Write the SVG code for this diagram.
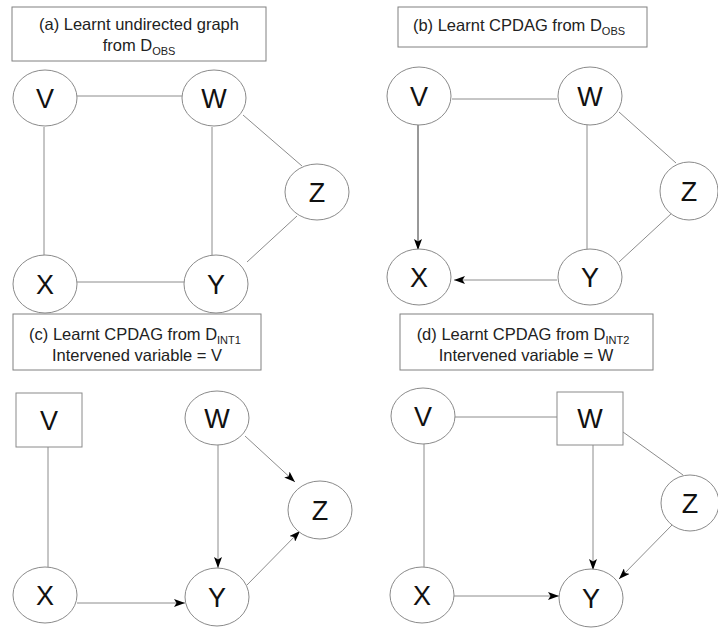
<svg xmlns="http://www.w3.org/2000/svg" width="718" height="631" viewBox="0 0 718 631">
  <style>
    .box { fill: #fff; stroke: #808080; stroke-width: 1; }
    .node { fill: #fff; stroke: #8a8a8a; stroke-width: 1; }
    .lbl { font-family: "Liberation Sans", Arial, sans-serif; font-size: 27px; fill: #111; text-anchor: middle; }
    .ttl { font-family: "Liberation Sans", Arial, sans-serif; font-size: 16.5px; fill: #222; text-anchor: middle; }
    .sub { font-size: 11px; }
    .edge { stroke: #8c8c8c; stroke-width: 1; fill: none; }
    .dark { stroke: #333; }
    .arr { marker-end: url(#head); }
  </style>
  <defs>
    <marker id="head" markerUnits="userSpaceOnUse" markerWidth="12" markerHeight="8" refX="11" refY="4" orient="auto">
      <path d="M0,0 L11,4 L0,8 L2.5,4 z" fill="#000"/>
    </marker>
  </defs>
  <rect width="718" height="631" fill="#fff"/>

  <!-- panel titles -->
  <g id="title-a">
    <rect class="box" x="12" y="7" width="254" height="54"/>
    <text class="ttl" x="139" y="30">(a) Learnt undirected graph</text>
    <text class="ttl" x="139" y="51">from D<tspan class="sub" dy="4">OBS</tspan></text>
  </g>
  <g id="title-b">
    <rect class="box" x="398" y="7" width="249" height="40"/>
    <text class="ttl" x="519" y="31">(b) Learnt CPDAG from D<tspan class="sub" dy="4">OBS</tspan></text>
  </g>
  <g id="title-c">
    <rect class="box" x="13" y="314" width="248" height="56"/>
    <text class="ttl" x="135" y="340">(c) Learnt CPDAG from D<tspan class="sub" dy="4">INT1</tspan></text>
    <text class="ttl" x="137" y="361">Intervened variable = V</text>
  </g>
  <g id="title-d">
    <rect class="box" x="400" y="314" width="253" height="56"/>
    <text class="ttl" x="523" y="340">(d) Learnt CPDAG from D<tspan class="sub" dy="4">INT2</tspan></text>
    <text class="ttl" x="526" y="361">Intervened variable = W</text>
  </g>

  <!-- connectors -->
  <g id="connectors">
    <!-- (a) -->
    <line class="edge" x1="77" y1="96" x2="182" y2="96"/>
    <line class="edge" x1="44" y1="127" x2="44" y2="256"/>
    <line class="edge" x1="212" y1="127" x2="212" y2="256"/>
    <line class="edge" x1="243" y1="115" x2="302" y2="166"/>
    <line class="edge" x1="297" y1="216" x2="247" y2="262"/>
    <line class="edge" x1="77" y1="282" x2="185" y2="282"/>
    <!-- (b) -->
    <line class="edge" x1="452" y1="99" x2="557" y2="99"/>
    <line class="edge dark arr" x1="418" y1="125" x2="418" y2="250"/>
    <line class="edge" x1="587" y1="125" x2="587" y2="251"/>
    <line class="edge" x1="619" y1="112" x2="676" y2="163"/>
    <line class="edge" x1="672" y1="213" x2="619" y2="262"/>
    <line class="edge arr" x1="557" y1="280" x2="454" y2="280"/>
    <!-- (c) -->
    <line class="edge" x1="48" y1="447" x2="48" y2="567"/>
    <line class="edge arr" x1="218" y1="445" x2="218" y2="568"/>
    <line class="edge arr" x1="245" y1="436" x2="295" y2="482"/>
    <line class="edge arr" x1="247" y1="585" x2="300" y2="531"/>
    <line class="edge arr" x1="77" y1="603" x2="185" y2="603"/>
    <!-- (d) -->
    <line class="edge" x1="454" y1="417" x2="557" y2="417"/>
    <line class="edge" x1="424" y1="443" x2="424" y2="567"/>
    <line class="edge arr" x1="593" y1="445" x2="593" y2="570"/>
    <line class="edge" x1="623" y1="432" x2="683" y2="475"/>
    <line class="edge arr" x1="672" y1="525" x2="619" y2="579"/>
    <line class="edge arr" x1="454" y1="596" x2="559" y2="596"/>
  </g>

  <!-- (a) nodes -->
  <g id="a-V"><ellipse class="node" cx="45" cy="98" rx="32" ry="28"/><text class="lbl" x="45" y="108">V</text></g>
  <g id="a-W"><ellipse class="node" cx="214" cy="98" rx="32" ry="28"/><text class="lbl" x="214" y="108">W</text></g>
  <g id="a-Z"><ellipse class="node" cx="317" cy="192" rx="32" ry="28"/><text class="lbl" x="317" y="202">Z</text></g>
  <g id="a-X"><ellipse class="node" cx="45" cy="284" rx="32" ry="29"/><text class="lbl" x="45" y="294">X</text></g>
  <g id="a-Y"><ellipse class="node" cx="216" cy="284" rx="32" ry="29"/><text class="lbl" x="216" y="294">Y</text></g>

  <!-- (b) nodes -->
  <g id="b-V"><ellipse class="node" cx="419" cy="96" rx="32" ry="29"/><text class="lbl" x="419" y="106">V</text></g>
  <g id="b-W"><ellipse class="node" cx="590" cy="96" rx="32" ry="29"/><text class="lbl" x="590" y="106">W</text></g>
  <g id="b-Z"><ellipse class="node" cx="689" cy="191" rx="29" ry="29"/><text class="lbl" x="689" y="201">Z</text></g>
  <g id="b-X"><ellipse class="node" cx="419" cy="277" rx="32" ry="28"/><text class="lbl" x="419" y="287">X</text></g>
  <g id="b-Y"><ellipse class="node" cx="590" cy="277" rx="32" ry="28"/><text class="lbl" x="590" y="287">Y</text></g>

  <!-- (c) nodes -->
  <g id="c-V"><rect class="node" x="16" y="393" width="66" height="54"/><text class="lbl" x="49" y="430">V</text></g>
  <g id="c-W"><ellipse class="node" cx="217" cy="418" rx="32" ry="27"/><text class="lbl" x="217" y="428">W</text></g>
  <g id="c-Z"><ellipse class="node" cx="320" cy="510" rx="32" ry="29"/><text class="lbl" x="320" y="520">Z</text></g>
  <g id="c-X"><ellipse class="node" cx="45" cy="595" rx="32" ry="28"/><text class="lbl" x="45" y="605">X</text></g>
  <g id="c-Y"><ellipse class="node" cx="217" cy="597" rx="32" ry="29"/><text class="lbl" x="217" y="607">Y</text></g>

  <!-- (d) nodes -->
  <g id="d-V"><ellipse class="node" cx="423" cy="416" rx="32" ry="28"/><text class="lbl" x="423" y="426">V</text></g>
  <g id="d-W"><rect class="node" x="557" y="392" width="66" height="53"/><text class="lbl" x="590" y="428">W</text></g>
  <g id="d-Z"><ellipse class="node" cx="690" cy="503" rx="29" ry="28"/><text class="lbl" x="690" y="513">Z</text></g>
  <g id="d-X"><ellipse class="node" cx="422" cy="595" rx="32" ry="28"/><text class="lbl" x="422" y="605">X</text></g>
  <g id="d-Y"><ellipse class="node" cx="591" cy="598" rx="32" ry="29"/><text class="lbl" x="591" y="608">Y</text></g>
</svg>
